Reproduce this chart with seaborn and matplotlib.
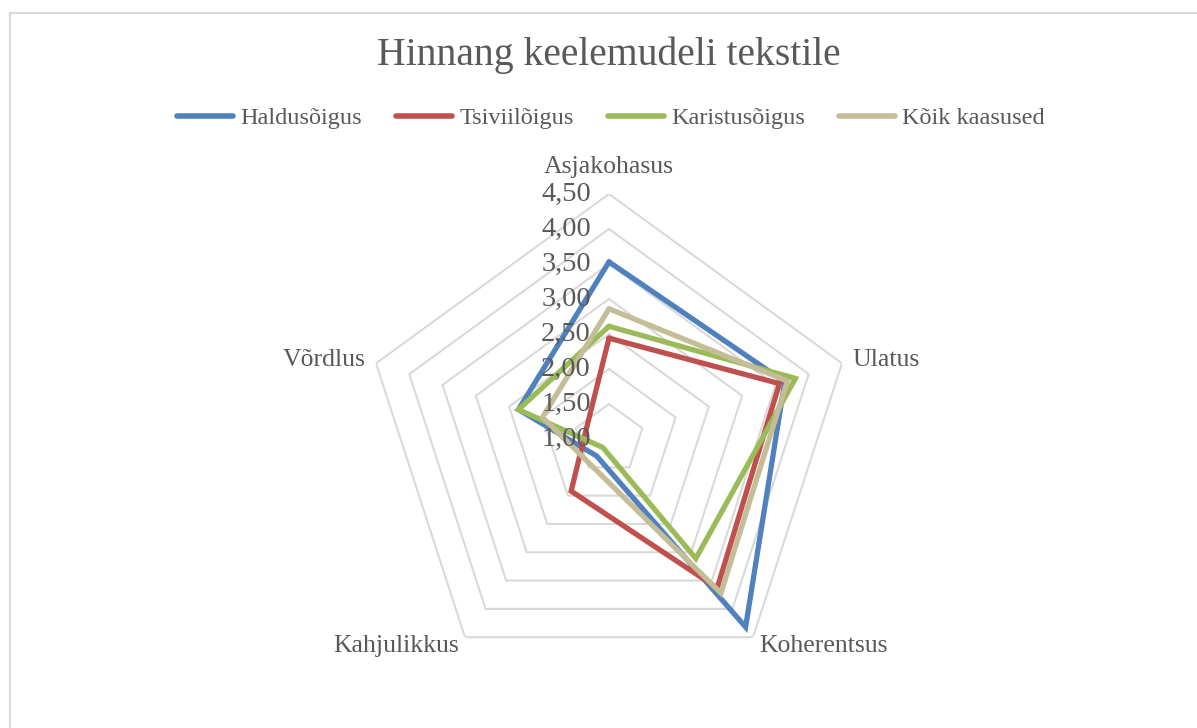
import numpy as np
import pandas as pd
import matplotlib
matplotlib.use("Agg")
import matplotlib.pyplot as plt
import matplotlib.transforms as mtransforms
from matplotlib.lines import Line2D
import seaborn as sns

categories = ['Asjakohasus', 'Ulatus', 'Koherentsus', 'Kahjulikkus', 'Võrdlus']
series_names = ['Haldusõigus', 'Tsiviilõigus', 'Karistusõigus', 'Kõik kaasused']
haldus = [3.53, 3.64, 4.32, 1.30, 2.36]
tsiviil = [2.44, 3.56, 3.63, 1.92, 1.35]
karistus = [2.61, 3.80, 3.11, 1.15, 2.36]
koik = [2.86, 3.68, 3.72, 1.45, 2.00]
tick_values = [1.0, 1.5, 2.0, 2.5, 3.0, 3.5, 4.0, 4.5]
tick_labels = ['1,00', '1,50', '2,00', '2,50', '3,00', '3,50', '4,00', '4,50']
colors = ['#4F81BD', '#C0504D', '#9BBB59', '#C4BD97']

sns.set_style('white')
plt.rcParams['font.family'] = ['Liberation Serif', 'DejaVu Serif']
text_color = '#595959'

# long table for seaborn, loop closed by repeating the first point
angles = np.linspace(0, 2 * np.pi, len(categories), endpoint=False)
rows = []
for name, vals in zip(series_names, [haldus, tsiviil, karistus, koik]):
    for i in range(len(categories) + 1):
        k = i % len(categories)
        rows.append({'series': name, 'theta': angles[k] if i < len(categories) else 2 * np.pi,
                     'value': vals[k], 'order': i})
df = pd.DataFrame(rows)

fig = plt.figure(figsize=(11.97, 7.28), dpi=100)
ax = fig.add_axes([364 / 1197, 44 / 728, 490 / 1197, 490 / 728], projection='polar')
ax.set_theta_zero_location('N')
ax.set_theta_direction(-1)
ax.set_ylim(1, 4.5)
ax.grid(False)
ax.spines['polar'].set_visible(False)
ax.set_xticks([])
ax.set_yticks([])
ax.set_facecolor('none')

# pentagon gridlines
closed = np.append(angles, angles[0])
for r in tick_values[1:]:
    ax.plot(closed, [r] * len(closed), color='#D9D9D9', lw=1.5, zorder=1)

sns.lineplot(data=df, x='theta', y='value', hue='series', units='series', estimator=None,
             sort=False, palette=colors, lw=3.8, ax=ax, legend=False, zorder=3)
for line in ax.lines[-4:]:
    line.set_solid_joinstyle('miter')
ax.set_xlabel('')
ax.set_ylabel('')

# radial tick labels left of the top axis
off = mtransforms.offset_copy(ax.transData, fig=fig, x=-18, y=0, units='dots')
for v, lab in zip(tick_values, tick_labels):
    ax.text(0, v, lab, transform=off, ha='right', va='center', fontsize=20.5, color=text_color)

# category labels
lab_size = 18.5
ax.text(angles[0], 4.89, categories[0], ha='center', va='center', fontsize=lab_size, color=text_color)
ax.text(angles[1], 4.65, categories[1], ha='left', va='center', fontsize=lab_size, color=text_color)
ax.text(angles[2], 4.65, categories[2], ha='left', va='center', fontsize=lab_size, color=text_color)
ax.text(angles[3], 4.65, categories[3], ha='right', va='center', fontsize=lab_size, color=text_color)
ax.text(angles[4], 4.65, categories[4], ha='right', va='center', fontsize=lab_size, color=text_color)

fig.text(609 / 1197, 1 - 55 / 728, 'Hinnang keelemudeli tekstile', ha='center', va='center',
         fontsize=28.5, color=text_color)

handles = [Line2D([0], [0], color=c, lw=4, solid_capstyle='round') for c in colors]
leg = fig.legend(handles, series_names, loc='center', bbox_to_anchor=(611 / 1197, 1 - 118 / 728),
                 ncol=4, frameon=False, fontsize=17.5, handlelength=2.3, handletextpad=0.3,
                 columnspacing=1.4)
for t in leg.get_texts():
    t.set_color(text_color)

# chart border
fig.add_artist(Line2D([10 / 1197, 1.0], [1 - 13 / 728] * 2, color='#D9D9D9', lw=1.5,
                      transform=fig.transFigure))
fig.add_artist(Line2D([10 / 1197] * 2, [0, 1 - 13 / 728], color='#D9D9D9', lw=1.5,
                      transform=fig.transFigure))

fig.savefig('out.png', dpi=100)
